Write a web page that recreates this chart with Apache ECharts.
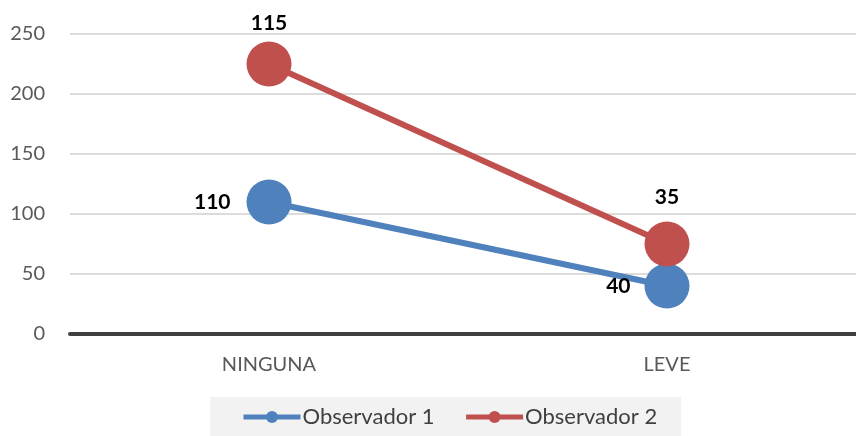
<!DOCTYPE html>
<html><head><meta charset="utf-8">
<script src="https://cdn.jsdelivr.net/npm/echarts@6/dist/echarts.min.js"></script>
<style>html,body{margin:0;padding:0;background:#fff}#c{width:856px;height:436px}</style>
</head><body><div id="c"></div>
<script>
const categories = ['NINGUNA', 'LEVE'];
const obs1 = [110, 40];
const obs2 = [115, 35];
const yTicks = [0, 50, 100, 150, 200, 250];

const font = 'Lato, "Open Sans", sans-serif';
const chart = echarts.init(document.getElementById('c'));
chart.setOption({
  animation: false,
  grid: { left: 70, top: 34, width: 796, height: 300, containLabel: false, outerBoundsMode: 'none' },
  legend: {
    data: ['Observador 1', 'Observador 2'],
    left: 210, top: 397,
    padding: [9, 24, 9, 31],
    backgroundColor: '#f2f2f2',
    itemWidth: 57, itemHeight: 15, itemGap: 29,
    lineStyle: { width: 5 },
    textStyle: { fontFamily: font, fontSize: 22, color: '#404040', padding: [0,0,0,-3] }
  },
  xAxis: {
    type: 'category', data: categories, boundaryGap: true,
    axisLine: { lineStyle: { color: '#404040', width: 4 } },
    axisTick: { show: false },
    axisLabel: { fontFamily: font, fontSize: 20, color: '#595959', margin: 21 }
  },
  yAxis: {
    type: 'value', min: yTicks[0], max: yTicks[yTicks.length-1], interval: 50,
    axisLine: { show: false }, axisTick: { show: false },
    axisLabel: { fontFamily: font, fontSize: 20, color: '#595959', margin: 25 },
    splitLine: { lineStyle: { color: '#d0d0d0', width: 1.5 } }
  },
  series: [
    {
      name: 'Observador 1', type: 'line', stack: 'total', data: obs1.map((v, i) => ({
        value: v,
        label: { distance: i === 0 ? 16 : 14 }
      })),
      color: '#4f81bd', symbol: 'circle', symbolSize: 45,
      lineStyle: { width: 6, color: '#4f81bd' },
      itemStyle: { color: '#4f81bd' },
      label: { show: true, position: 'left', fontFamily: font, fontWeight: 'bold', fontSize: 21, color: '#000' }
    },
    {
      name: 'Observador 2', type: 'line', stack: 'total', data: obs2.map((v, i) => ({
        value: v,
        label: { distance: i === 0 ? 8 : 14 }
      })),
      color: '#c0504d', symbol: 'circle', symbolSize: 45,
      lineStyle: { width: 6, color: '#c0504d' },
      itemStyle: { color: '#c0504d' },
      label: { show: true, position: 'top', fontFamily: font, fontWeight: 'bold', fontSize: 21, color: '#000' }
    }
  ]
});
</script></body></html>
